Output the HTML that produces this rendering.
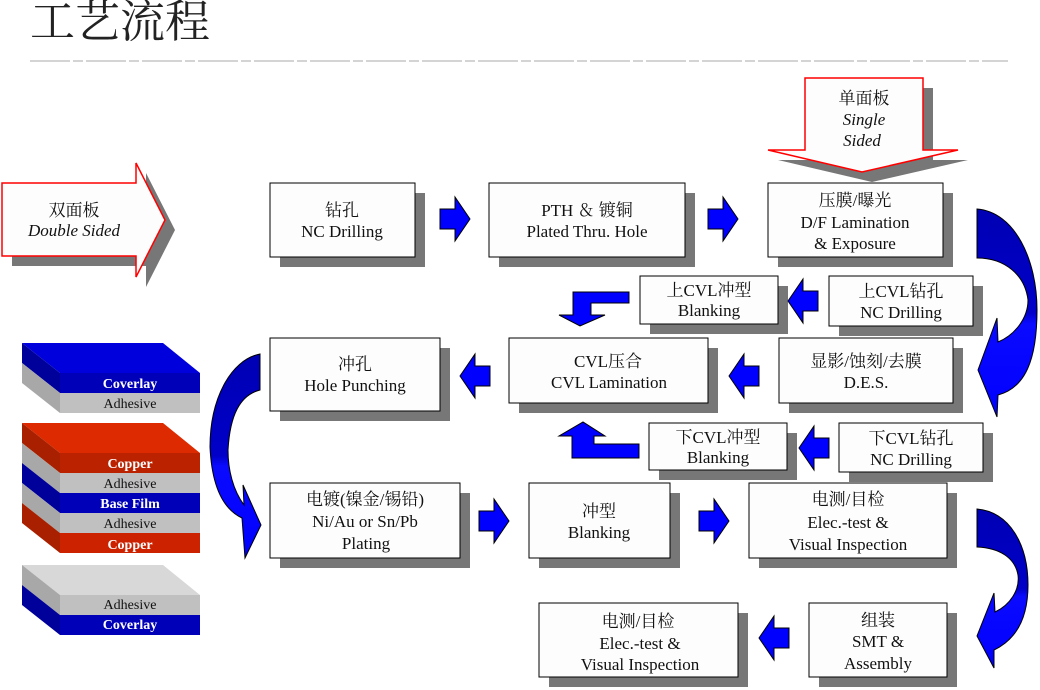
<!DOCTYPE html>
<html><head><meta charset="utf-8"><style>
html,body{margin:0;padding:0;background:#fff;}
svg{display:block;}
text{font-family:"Liberation Serif","Noto Serif CJK SC",serif;fill:#111;}
.b{font-size:17px;text-anchor:middle;}
.l{font-size:14px;text-anchor:middle;font-weight:bold;}
</style></head><body>
<svg width="1040" height="690" viewBox="0 0 1040 690" xmlns="http://www.w3.org/2000/svg">
<defs>
<linearGradient id="g" x1="0" y1="0" x2="0" y2="1"><stop offset="0" stop-color="#0000b4"/><stop offset="0.5" stop-color="#0000c8"/><stop offset="0.55" stop-color="#0a0aff"/><stop offset="1" stop-color="#0000ff"/></linearGradient>
<g id="ra"><polygon points="0,-10 15,-10 15,-22 30,0 15,22 15,10 0,10" fill="#0000ff" stroke="#000" stroke-width="1"/></g>
<g id="la"><polygon points="30,-10 15,-10 15,-22 0,0 15,22 15,10 30,10" fill="#0000ff" stroke="#000" stroke-width="1"/></g>
</defs>
<text x="30" y="37" style="font-size:45px;fill:#222">工艺流程</text>
<line x1="30" y1="61" x2="1008" y2="61" stroke="#aaa" stroke-width="1" stroke-dasharray="40,3,10,3"/>

<polygon points="12,193 146,193 146,173 175,230 146,287 146,266 12,266" fill="#777"/>
<polygon points="2,183 136,183 136,163 165,220 136,277 136,256 2,256" fill="#fdfdfd" stroke="#f00" stroke-width="1.5"/>
<text class="b" x="74" y="216">双面板</text>
<text class="b" x="74" y="236" style="font-style:italic">Double Sided</text>

<polygon points="815,88 933,88 933,160 968,160 872,182 778,160 815,160" fill="#777"/>
<polygon points="805,78 923,78 923,150 958,150 862,172 768,150 805,150" fill="#fdfdfd" stroke="#f00" stroke-width="1.5"/>
<text class="b" x="864" y="104">单面板</text>
<text class="b" x="864" y="125" style="font-style:italic">Single</text>
<text class="b" x="862" y="146" style="font-style:italic">Sided</text>

<g fill="#777">
<rect x="280" y="193" width="145" height="74"/>
<rect x="499" y="193" width="196" height="74"/>
<rect x="778" y="193" width="175" height="74"/>
<rect x="650" y="286" width="138" height="48"/>
<rect x="839" y="286" width="144" height="50"/>
<rect x="280" y="348" width="170" height="73"/>
<rect x="519" y="348" width="199" height="65"/>
<rect x="789" y="348" width="174" height="65"/>
<rect x="659" y="433" width="138" height="47"/>
<rect x="849" y="433" width="144" height="49"/>
<rect x="280" y="493" width="190" height="75"/>
<rect x="539" y="493" width="141" height="75"/>
<rect x="759" y="493" width="198" height="75"/>
<rect x="549" y="613" width="199" height="74"/>
<rect x="819" y="613" width="138" height="74"/>
</g>
<g fill="#fdfdfd" stroke="#000" stroke-width="1">
<rect x="270" y="183" width="145" height="74"/>
<rect x="489" y="183" width="196" height="74"/>
<rect x="768" y="183" width="175" height="74"/>
<rect x="640" y="276" width="138" height="48"/>
<rect x="829" y="276" width="144" height="50"/>
<rect x="270" y="338" width="170" height="73"/>
<rect x="509" y="338" width="199" height="65"/>
<rect x="779" y="338" width="174" height="65"/>
<rect x="649" y="423" width="138" height="47"/>
<rect x="839" y="423" width="144" height="49"/>
<rect x="270" y="483" width="190" height="75"/>
<rect x="529" y="483" width="141" height="75"/>
<rect x="749" y="483" width="198" height="75"/>
<rect x="539" y="603" width="199" height="74"/>
<rect x="809" y="603" width="138" height="74"/>
</g>
<text class="b" x="342" y="216">钻孔</text><text class="b" x="342" y="237">NC Drilling</text>
<text class="b" x="587" y="216">PTH ＆ 镀铜</text><text class="b" x="587" y="237">Plated Thru. Hole</text>
<text class="b" x="855" y="206">压膜/曝光</text><text class="b" x="855" y="228">D/F Lamination</text><text class="b" x="855" y="249">&amp; Exposure</text>
<text class="b" x="709" y="296">上CVL冲型</text><text class="b" x="709" y="316">Blanking</text>
<text class="b" x="901" y="297">上CVL钻孔</text><text class="b" x="901" y="318">NC Drilling</text>
<text class="b" x="355" y="370">冲孔</text><text class="b" x="355" y="391">Hole Punching</text>
<text class="b" x="608" y="367">CVL压合</text><text class="b" x="609" y="388">CVL Lamination</text>
<text class="b" x="866" y="367">显影/蚀刻/去膜</text><text class="b" x="866" y="388">D.E.S.</text>
<text class="b" x="718" y="443">下CVL冲型</text><text class="b" x="718" y="463">Blanking</text>
<text class="b" x="911" y="444">下CVL钻孔</text><text class="b" x="911" y="465">NC Drilling</text>
<text class="b" x="365" y="505">电镀(镍金/锡铅)</text><text class="b" x="365" y="527">Ni/Au or Sn/Pb</text><text class="b" x="366" y="549">Plating</text>
<text class="b" x="599" y="517">冲型</text><text class="b" x="599" y="538">Blanking</text>
<text class="b" x="848" y="505">电测/目检</text><text class="b" x="848" y="528">Elec.-test &amp;</text><text class="b" x="848" y="550">Visual Inspection</text>
<text class="b" x="638" y="627">电测/目检</text><text class="b" x="640" y="649">Elec.-test &amp;</text><text class="b" x="640" y="670">Visual Inspection</text>
<text class="b" x="878" y="626">组装</text><text class="b" x="878" y="647">SMT &amp;</text><text class="b" x="878" y="669">Assembly</text>

<use href="#ra" x="440" y="219"/>
<use href="#ra" x="708" y="219"/>
<use href="#ra" x="479" y="521"/>
<use href="#ra" x="699" y="521"/>
<use href="#la" x="788" y="301"/>
<use href="#la" x="460" y="376"/>
<use href="#la" x="729" y="376"/>
<use href="#la" x="799" y="448"/>
<use href="#la" x="759" y="638"/>
<polygon points="629,292 629,303 591,303 591,315 605,315 580,326 559,315 573,315 573,292" fill="#0000ff" stroke="#000" stroke-width="1"/>
<polygon points="639,458 639,444 594,444 594,436 605,436 583,422 559,436 572,436 572,458" fill="#0000ff" stroke="#000" stroke-width="1"/>

<path d="M977,209 C1015,212 1037,260 1037,310 C1037,360 1025,388 998,395 L997,417 L978,370 L997,318 L998,342 C1015,335 1028,318 1028,300 C1025,275 1005,258 977,258 Z" fill="url(#g)" stroke="#000" stroke-width="1"/>
<path d="M977,509 C1010,512 1028,545 1028,585 C1028,620 1015,640 994,650 L994,668 L977,636 L994,593 L995,612 C1010,605 1020,590 1018,575 C1015,558 1000,548 977,547 Z" fill="url(#g)" stroke="#000" stroke-width="1"/>
<path d="M260,354 C230,360 210,400 210,447 C212,490 225,510 242,518 L245,558 L261,525 L243,485 L244,505 C233,490 228,470 228,450 C230,415 240,395 260,390 Z" fill="url(#g)" stroke="#000" stroke-width="1"/>

<polygon points="22,343 163,343 200,373 60,373" fill="#0000dd"/>
<polygon points="22,343 60,373 60,393 22,363" fill="#00009a"/>
<polygon points="22,363 60,393 60,413 22,383" fill="#a8a8a8"/>
<rect x="60" y="373" width="140" height="20" fill="#0000b8"/>
<rect x="60" y="393" width="140" height="20" fill="#c0c0c0"/>
<text class="l" x="130" y="388" style="fill:#fff">Coverlay</text>
<text class="l" x="130" y="408" style="font-weight:normal">Adhesive</text>
<polygon points="22,423 163,423 200,453 60,453" fill="#dd2a00"/>
<polygon points="22,423 60,453 60,473 22,443" fill="#a82000"/>
<polygon points="22,443 60,473 60,493 22,463" fill="#a8a8a8"/>
<polygon points="22,463 60,493 60,513 22,483" fill="#00009a"/>
<polygon points="22,483 60,513 60,533 22,503" fill="#a8a8a8"/>
<polygon points="22,503 60,533 60,553 22,523" fill="#a82000"/>
<rect x="60" y="453" width="140" height="20" fill="#bb2200"/>
<rect x="60" y="473" width="140" height="20" fill="#c0c0c0"/>
<rect x="60" y="493" width="140" height="20" fill="#0000b8"/>
<rect x="60" y="513" width="140" height="20" fill="#c0c0c0"/>
<rect x="60" y="533" width="140" height="20" fill="#cc2200"/>
<text class="l" x="130" y="468" style="fill:#fff">Copper</text>
<text class="l" x="130" y="488" style="font-weight:normal">Adhesive</text>
<text class="l" x="130" y="508" style="fill:#fff">Base Film</text>
<text class="l" x="130" y="528" style="font-weight:normal">Adhesive</text>
<text class="l" x="130" y="549" style="fill:#fff">Copper</text>
<polygon points="22,565 163,565 200,595 60,595" fill="#d8d8d8"/>
<polygon points="22,565 60,595 60,615 22,585" fill="#a8a8a8"/>
<polygon points="22,585 60,615 60,635 22,605" fill="#00009a"/>
<rect x="60" y="595" width="140" height="20" fill="#c0c0c0"/>
<rect x="60" y="615" width="140" height="20" fill="#0000b8"/>
<text class="l" x="130" y="609" style="font-weight:normal">Adhesive</text>
<text class="l" x="130" y="629" style="fill:#fff">Coverlay</text>
</svg>
</body></html>
